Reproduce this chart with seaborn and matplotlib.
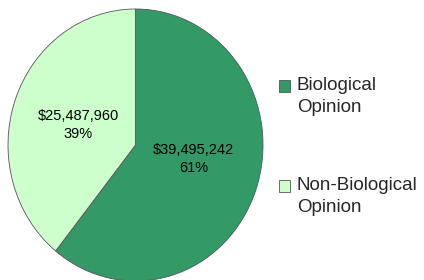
import matplotlib.pyplot as plt
import seaborn as sns
from matplotlib.patches import Rectangle

sns.set_theme(style="white")
plt.rcParams['font.family'] = ['Liberation Sans', 'DejaVu Sans']

categories = ["Biological\nOpinion", "Non-Biological\nOpinion"]
amounts = [39495242, 25487960]
percents = [61, 39]
colors = ["#339966", "#CCFFCC"]

W, H = 424, 280
fig = plt.figure(figsize=(W / 100, H / 100), dpi=100)
# pie is a touch taller than wide in the original, so no equal aspect
ax = fig.add_axes([8 / W, -1 / H, 255 / W, 272 / H])

labels = iter(f"${a:,}\n{p}%" for a, p in zip(amounts, percents))

wedges, texts, autotexts = ax.pie(
    amounts, colors=colors, startangle=90, counterclock=False,
    autopct=lambda pct: next(labels), pctdistance=0.5,
    wedgeprops=dict(edgecolor="#555555", linewidth=0.6),
    textprops=dict(fontsize=10.5, color="black", linespacing=1.4),
)
ax.set_aspect("auto")
ax.set_xlim(-1, 1)
ax.set_ylim(-1, 1)

autotexts[0].set_position((0.457, -0.103))
autotexts[1].set_position((-0.449, 0.147))

# legend drawn by hand so the swatch sits on the first line
for i, (lab, col) in enumerate(zip(categories, colors)):
    top = 80 + i * 100
    fig.patches.append(Rectangle((279 / W, 1 - (top + 12) / H), 11 / W, 12 / H,
                                 transform=fig.transFigure, facecolor=col,
                                 edgecolor="#555555", linewidth=0.6))
    fig.text(297 / W, 1 - (top - 3) / H, lab, fontsize=13.5, va="top", ha="left",
             linespacing=1.35)

fig.savefig("out.png", dpi=100)
